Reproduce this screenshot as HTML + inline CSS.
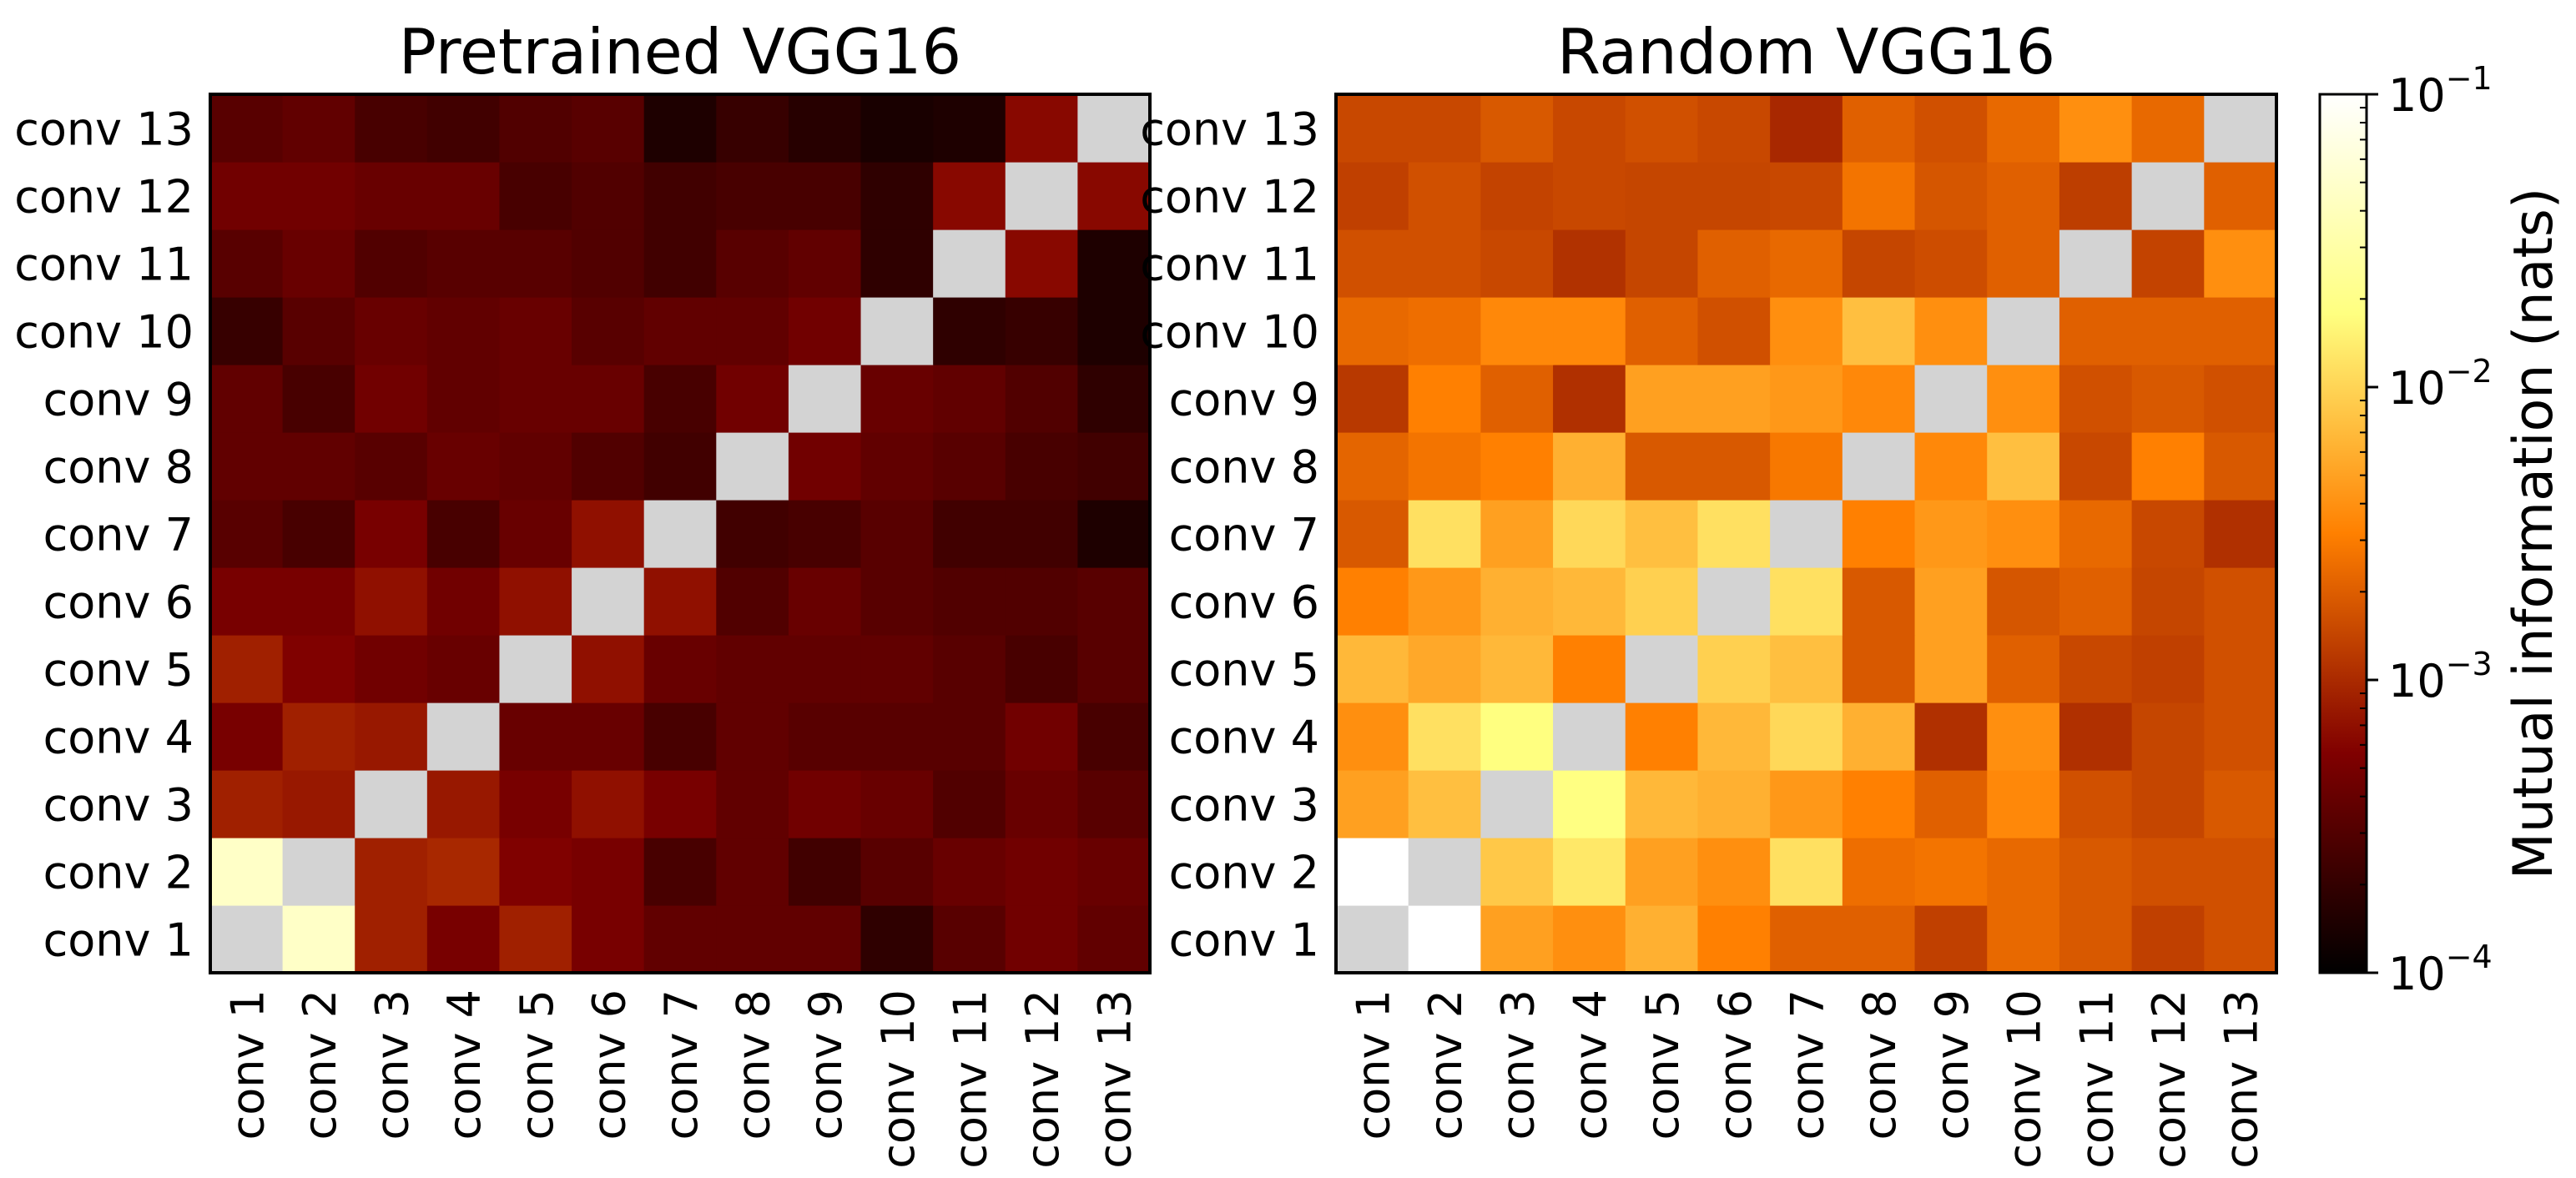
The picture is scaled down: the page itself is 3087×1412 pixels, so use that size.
<!DOCTYPE html>
<html><head><meta charset="utf-8"><style>
html,body{margin:0;padding:0;background:#fff;}
svg{display:block;font-family:"DejaVu Sans","Liberation Sans",sans-serif;}
</style></head><body>
<svg id="chart" width="3087" height="1412" viewBox="0 0 3087 1412" xmlns="http://www.w3.org/2000/svg"></svg>
<script>
const layers = ["conv 1","conv 2","conv 3","conv 4","conv 5","conv 6","conv 7","conv 8","conv 9","conv 10","conv 11","conv 12","conv 13"];
const cbTicks = [-4,-3,-2,-1];
const cbTickLabels = ["10","10","10","10"];
const cbTickExps = ["−4","−3","−2","−1"];
// rows: conv1..conv13, cols: conv1..conv13 (null = diagonal)
const pretrained = [
[null,0.047,8.7e-4,5.1e-4,8.7e-4,5.1e-4,3.7e-4,3.7e-4,3.7e-4,1.9e-4,3.3e-4,4.6e-4,3.7e-4],
[0.047,null,8.7e-4,9.7e-4,5.7e-4,5.1e-4,2.65e-4,3.7e-4,2.4e-4,3.3e-4,4.1e-4,4.6e-4,4.1e-4],
[8.7e-4,7.8e-4,null,7.8e-4,5.1e-4,7e-4,5.1e-4,3.7e-4,4.6e-4,4.1e-4,3e-4,4.1e-4,3.3e-4],
[5.1e-4,8.7e-4,7.8e-4,null,4.1e-4,4.1e-4,2.65e-4,3.7e-4,3.3e-4,3.3e-4,3.3e-4,4.6e-4,2.65e-4],
[8.7e-4,5.7e-4,4.6e-4,4.1e-4,null,7e-4,4.1e-4,3.7e-4,3.7e-4,3.7e-4,3.3e-4,2.65e-4,3.3e-4],
[5.1e-4,5.1e-4,7e-4,4.6e-4,7e-4,null,7e-4,3e-4,4.1e-4,3.3e-4,3e-4,3e-4,3.3e-4],
[3.3e-4,2.65e-4,5.1e-4,2.65e-4,4.1e-4,7e-4,null,2.4e-4,2.65e-4,3.3e-4,2.4e-4,2.4e-4,1.5e-4],
[3.7e-4,3.7e-4,3.3e-4,4.1e-4,3.7e-4,3e-4,2.4e-4,null,4.6e-4,3.7e-4,3.3e-4,2.65e-4,2.4e-4],
[3.7e-4,2.65e-4,4.6e-4,3.7e-4,4.1e-4,4.1e-4,2.65e-4,4.6e-4,null,4.1e-4,3.7e-4,3e-4,1.9e-4],
[2.1e-4,3.3e-4,4.1e-4,3.7e-4,4.1e-4,3.3e-4,3.7e-4,3.7e-4,4.6e-4,null,1.9e-4,2.1e-4,1.5e-4],
[3.3e-4,4.1e-4,3e-4,3.3e-4,3.3e-4,3e-4,2.4e-4,3.3e-4,3.7e-4,1.9e-4,null,6.3e-4,1.5e-4],
[4.6e-4,4.6e-4,4.1e-4,4.1e-4,2.65e-4,3e-4,2.4e-4,2.65e-4,2.65e-4,1.9e-4,6.3e-4,null,6.3e-4],
[3.3e-4,3.7e-4,2.65e-4,2.4e-4,3e-4,3.3e-4,1.5e-4,2.1e-4,1.7e-4,1.4e-4,1.5e-4,6.3e-4,null]
];
const random = [
[null,0.1,4.9e-3,3.9e-3,6.1e-3,3.2e-3,2.07e-3,2.07e-3,1.34e-3,2.32e-3,1.87e-3,1.34e-3,1.67e-3],
[0.1,null,8.4e-3,1.3e-2,4.9e-3,3.9e-3,1.17e-2,2.5e-3,2.7e-3,2.32e-3,1.87e-3,1.67e-3,1.67e-3],
[4.9e-3,7.5e-3,null,1.85e-2,6.8e-3,6.1e-3,4.4e-3,3.2e-3,2.07e-3,3.56e-3,1.67e-3,1.45e-3,1.87e-3],
[3.9e-3,1.17e-2,1.8e-2,null,3.2e-3,6.8e-3,1.05e-2,6.1e-3,1.08e-3,3.9e-3,1.08e-3,1.45e-3,1.67e-3],
[6.8e-3,5.5e-3,6.8e-3,3.2e-3,null,9.4e-3,7.5e-3,1.87e-3,4.9e-3,2.07e-3,1.5e-3,1.34e-3,1.67e-3],
[3.2e-3,4.4e-3,6.1e-3,6.8e-3,9.4e-3,null,1.17e-2,1.87e-3,4.9e-3,1.8e-3,2.07e-3,1.45e-3,1.67e-3],
[1.87e-3,1.17e-2,4.9e-3,1.05e-2,7.5e-3,1.17e-2,null,3.2e-3,4.4e-3,3.9e-3,2.32e-3,1.5e-3,1.08e-3],
[2.2e-3,2.7e-3,3.2e-3,6.1e-3,1.87e-3,1.87e-3,2.85e-3,null,3.56e-3,7.5e-3,1.5e-3,3.2e-3,1.87e-3],
[1.21e-3,3.2e-3,2.07e-3,1.08e-3,4.9e-3,4.9e-3,4.4e-3,3.56e-3,null,3.9e-3,1.67e-3,1.87e-3,1.67e-3],
[2.32e-3,2.5e-3,3.56e-3,3.56e-3,2.07e-3,1.67e-3,3.9e-3,7.5e-3,3.9e-3,null,2.07e-3,2.07e-3,2.07e-3],
[1.67e-3,1.67e-3,1.5e-3,1.1e-3,1.45e-3,2.07e-3,2.32e-3,1.45e-3,1.6e-3,2.07e-3,null,1.4e-3,3.9e-3],
[1.34e-3,1.67e-3,1.4e-3,1.5e-3,1.45e-3,1.45e-3,1.5e-3,2.7e-3,1.8e-3,2.07e-3,1.3e-3,null,2.07e-3],
[1.5e-3,1.5e-3,1.87e-3,1.5e-3,1.67e-3,1.5e-3,9.7e-4,2.07e-3,1.67e-3,2.32e-3,3.9e-3,2.32e-3,null]
];

const NS="http://www.w3.org/2000/svg";
const svg=document.getElementById('chart');
function mk(tag,attrs,parent){const e=document.createElementNS(NS,tag);for(const k in attrs)e.setAttribute(k,attrs[k]);(parent||svg).appendChild(e);return e;}
const LMIN=-4,LMAX=-1;
function norm(v){let t=(Math.log10(v)-LMIN)/(LMAX-LMIN);return Math.max(0,Math.min(1,t));}
function afmhot(t){const c=x=>Math.round(255*Math.max(0,Math.min(1,x)));return `rgb(${c(2*t)},${c(2*t-0.5)},${c(2*t-1)})`;}

const TOP=113,BOT=1166;
function drawPanel(data,x0,x1,title,name){
  const g=mk('g',{});
  
  
  const n=layers.length,cw=(x1-x0)/n,ch=(BOT-TOP)/n;
  const xOf=i=>x0+i*cw;
  const yOf=i=>BOT-(i+1)*ch;
  data.forEach((row,ri)=>row.forEach((v,ci)=>{
    const r=mk('rect',{x:xOf(ci),y:yOf(ri),width:cw+0.6,height:ch+0.6,fill:v==null?'#d3d3d3':afmhot(norm(v))},g);
    
    
  }));
  const f=mk('rect',{x:x0,y:TOP,width:x1-x0,height:BOT-TOP,fill:'none',stroke:'#000','stroke-width':4},g);
  
  
  const t=mk('text',{x:(x0+x1)/2,y:88,'font-size':75,'text-anchor':'middle',fill:'#000'},g);
  t.textContent=title;
  
  
  layers.forEach((lab,i)=>{
    const yl=mk('text',{x:x0-20,y:yOf(i)+ch/2+20,'font-size':54,'text-anchor':'end',fill:'#000'},g);
    yl.textContent=lab;
    
    
    const cx=xOf(i)+cw/2;
    const xl=mk('text',{x:0,y:0,'font-size':54,'text-anchor':'end',fill:'#000',transform:`translate(${cx+20},${BOT+20}) rotate(-90)`},g);
    xl.textContent=lab;
    
    
  });
}
drawPanel(pretrained,252,1378,'Pretrained VGG16','pretrained-heatmap');
drawPanel(random,1601,2728,'Random VGG16','random-heatmap');

// colorbar
const CX0=2780,CX1=2836;
const defs=mk('defs',{});
const grad=mk('linearGradient',{id:'cbg',x1:0,y1:1,x2:0,y2:0},defs);
for(let i=0;i<=20;i++){mk('stop',{offset:i/20,'stop-color':afmhot(i/20)},grad);}
const cb=mk('rect',{x:CX0,y:TOP,width:CX1-CX0,height:BOT-TOP,fill:'url(#cbg)',stroke:'#000','stroke-width':3});


const cbY=l=>BOT-(l-LMIN)/(LMAX-LMIN)*(BOT-TOP);
cbTicks.forEach((l,i)=>{
  const y=cbY(l);
  const tk=mk('line',{x1:CX1,x2:CX1+14,y1:y,y2:y,stroke:'#000','stroke-width':3});
  
  
  const tx=mk('text',{x:CX1+26,y:y+20,'font-size':54,fill:'#000'});
  tx.textContent=cbTickLabels[i];
  const sup=mk('tspan',{dy:-26,'font-size':38},tx);
  sup.textContent=cbTickExps[i];
  
  
  if(i<cbTicks.length-1){
    for(let m=2;m<=9;m++){
      const ym=cbY(l+Math.log10(m));
      const mt=mk('line',{x1:CX1-8,x2:CX1,y1:ym,y2:ym,stroke:'#000','stroke-width':2});
      
      
    }
  }
});
const cl=mk('text',{x:0,y:0,'font-size':65,'text-anchor':'middle',fill:'#000',transform:`translate(${3058},${(TOP+BOT)/2}) rotate(-90)`});
cl.textContent='Mutual information (nats)';


</script>
</body></html>
